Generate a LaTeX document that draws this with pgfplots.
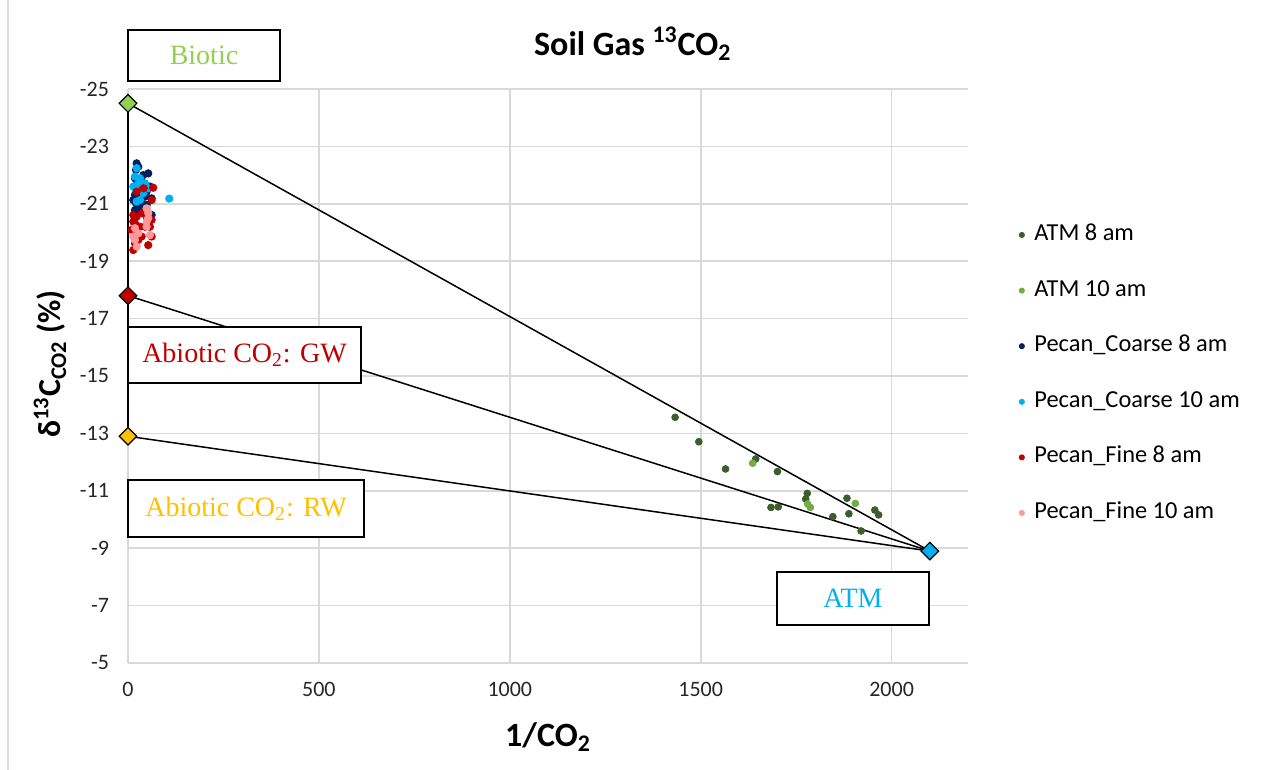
\documentclass[border=0pt]{standalone}
\usepackage{pgfplots}
\pgfplotsset{compat=1.18}
\usepackage{fontspec}
\setmainfont{Carlito}
\newfontfamily\serifbox{Liberation Serif}
\definecolor{gridgray}{HTML}{D9D9D9}
\definecolor{atmA}{HTML}{3B5E2B}
\definecolor{atmB}{HTML}{70AD47}
\definecolor{coarseA}{HTML}{002060}
\definecolor{coarseB}{HTML}{00B0F0}
\definecolor{fineA}{HTML}{C00000}
\definecolor{fineB}{HTML}{FF9999}
\definecolor{biotic}{HTML}{92D050}
\definecolor{gw}{HTML}{C00000}
\definecolor{rw}{HTML}{FFC000}
\definecolor{atmend}{HTML}{00B0F0}
\begin{document}
\begin{tikzpicture}[x=0.5pt,y=0.5pt]
\useasboundingbox (0,0) rectangle (1266,770);
\draw[gridgray, line width=1pt] (8,0) -- (8,770);
\begin{axis}[
  at={(64pt,53.5pt)}, anchor=south west,
  scale only axis, width=420pt, height=287pt,
  xmin=0, xmax=2200, ymin=-25, ymax=-5, y dir=reverse,
  xtick={0,500,1000,1500,2000}, ytick={-25,-23,-21,-19,-17,-15,-13,-11,-9,-7,-5},
  grid=major, major grid style={draw=gridgray, line width=0.8pt},
  axis line style={draw=none}, major tick length=0pt,
  tick label style={font=\fontsize{11}{13}\selectfont, text=black!85},
  /pgf/number format/assume math mode=true,
  /pgf/number format/1000 sep={},
  xticklabel style={yshift=-6pt},
  yticklabel style={xshift=-6pt},
  clip=false,
  title={Soil Gas \textsuperscript{13}CO\textsubscript{2}},
  title style={at={(axis description cs:0.601,1.058)}, anchor=center, font=\bfseries\fontsize{17}{19}\selectfont},
  xlabel={1/CO\textsubscript{2}},
  xlabel style={at={(axis description cs:0.5,-0.129)}, anchor=center, font=\bfseries\fontsize{17}{19}\selectfont},
  ylabel={δ\textsuperscript{13}C\textsubscript{CO2} (\%)},
  ylabel style={at={(axis description cs:-0.093,0.521)}, anchor=center, font=\bfseries\fontsize{16}{18}\selectfont},
  legend image code/.code={\draw[#1, mark size=1.3pt] plot coordinates {(0pt,0pt)};},
  legend cell align=left,
  legend style={at={(axis description cs:1.061,0.5035)}, anchor=west, draw=none, fill=none,
    inner sep=0pt, outer sep=0pt, font=\fontsize{12.2}{14}\selectfont,
    row sep=18.3pt, /tikz/column sep=5pt,
    nodes={inner sep=0pt, text height=7.5pt, text depth=2pt}},
]
\addplot[black, line width=0.75pt, forget plot] coordinates {(0,-24.5) (2100,-8.9)};
\addplot[black, line width=0.75pt, forget plot] coordinates {(0,-17.8) (2100,-8.9)};
\addplot[black, line width=0.75pt, forget plot] coordinates {(0,-12.9) (2100,-8.9)};
\addplot[black, line width=0.75pt, forget plot] coordinates {(0,-24.5) (0,-12.9)};

\addplot[only marks, mark=*, mark size=1.7pt, color=atmA] coordinates {
(1433,-13.56) (1495,-12.71) (1565,-11.76) (1644,-12.11) (1701,-11.67)
(1779,-10.91) (1775,-10.71) (1684,-10.42) (1703,-10.44) (1883,-10.74)
(1846,-10.10) (1888,-10.20) (1956,-10.33) (1966,-10.16) (1920,-9.60)};
\addlegendentry{ATM 8 am}
\addplot[only marks, mark=*, mark size=1.7pt, color=atmB] coordinates {
(1636,-11.96) (1780,-10.54) (1787,-10.42) (1905,-10.56)};
\addlegendentry{ATM 10 am}
\addplot[only marks, mark=*, mark size=1.85pt, color=coarseA] coordinates {
(22.7,-22.41) (27,-22.29) (21,-22.18) (40,-22.00) (53,-22.06) (18.3,-21.89)
(35.7,-21.77) (22.7,-21.66) (31.4,-21.54) (57.5,-21.60) (18.3,-21.31) (27,-21.19)
(44.4,-21.25) (61.9,-21.19) (21,-21.02) (31.4,-20.90) (48.8,-20.96) (18.3,-20.78)
(40,-20.73) (57.5,-20.50) (61.9,-20.61) (27,-21.42) (48.8,-21.42) (35.7,-21.02)
(13.9,-21.13) (31.4,-20.81)};
\addlegendentry{Pecan\_Coarse 8 am}
\addplot[only marks, mark=*, mark size=1.85pt, color=coarseB] coordinates {
(22.7,-22.24) (18.3,-21.95) (31.4,-21.89) (27,-21.71) (44.4,-21.71) (53,-21.54)
(21,-21.48) (40,-21.37) (48.8,-20.84) (31.4,-21.13) (22.7,-21.08) (108,-21.18)
(13.9,-21.60)};
\addlegendentry{Pecan\_Coarse 10 am}
\addplot[only marks, mark=*, mark size=1.85pt, color=fineA] coordinates {
(22.7,-21.42) (41,-21.54) (66,-21.56) (61.9,-21.13) (13.9,-20.61) (22.7,-20.55)
(35.7,-20.67) (48.8,-20.55) (18.3,-20.32) (31.4,-20.20) (44.4,-20.20) (57.5,-20.20)
(61.9,-19.86) (22.7,-19.97) (35.7,-19.86) (18.3,-19.62) (13.9,-19.39) (53,-19.56)
(27,-19.74) (61.9,-20.44) (9.5,-20.09) (13.9,-20.38)};
\addlegendentry{Pecan\_Fine 8 am}
\addplot[only marks, mark=*, mark size=1.85pt, color=fineB] coordinates {
(48.8,-20.84) (53,-20.67) (18.3,-20.15) (48.8,-20.20) (57.5,-19.91) (13.9,-19.86)
(18.3,-19.74) (22.7,-19.51) (48.8,-20.38) (27,-19.97) (53,-20.50)};
\addlegendentry{Pecan\_Fine 10 am}

\addplot[only marks, mark=square*, mark size=3.1pt, mark options={rotate=45, fill=biotic, draw=black, line width=0.6pt}, forget plot] coordinates {(0,-24.5)};
\addplot[only marks, mark=square*, mark size=3.1pt, mark options={rotate=45, fill=gw, draw=black, line width=0.6pt}, forget plot] coordinates {(0,-17.8)};
\addplot[only marks, mark=square*, mark size=3.1pt, mark options={rotate=45, fill=rw, draw=black, line width=0.6pt}, forget plot] coordinates {(0,-12.9)};
\addplot[only marks, mark=square*, mark size=3.1pt, mark options={rotate=45, fill=atmend, draw=black, line width=0.6pt}, forget plot] coordinates {(2100,-8.9)};
\end{axis}
\node[draw=black, line width=1pt, fill=white, minimum width=76pt, minimum height=25.5pt, inner sep=0pt, font=\serifbox\fontsize{14}{16}\selectfont, text=biotic] at (204,714.5) {Biotic};
\node[draw=black, line width=1pt, fill=white, minimum width=116.5pt, minimum height=28pt, inner sep=0pt, font=\serifbox\fontsize{14}{16}\selectfont, text=gw] at (244.5,415) {Abiotic CO\textsubscript{2}: GW};
\node[draw=black, line width=1pt, fill=white, minimum width=118pt, minimum height=28.5pt, inner sep=0pt, font=\serifbox\fontsize{14}{16}\selectfont, text=rw] at (246,261.5) {Abiotic CO\textsubscript{2}: RW};
\node[draw=black, line width=1pt, fill=white, minimum width=76pt, minimum height=26.5pt, inner sep=0pt, font=\serifbox\fontsize{14}{16}\selectfont, text=atmend] at (853,171.5) {ATM};
\end{tikzpicture}
\end{document}
